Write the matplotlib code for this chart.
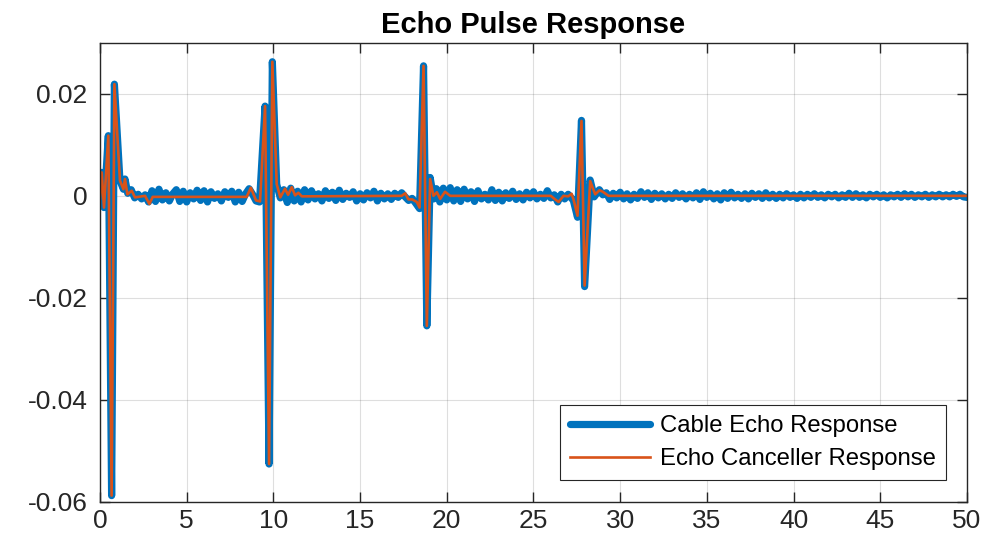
import numpy as np
import matplotlib
matplotlib.use("Agg")
import matplotlib.pyplot as plt

plt.rcParams['font.family'] = ['Liberation Sans', 'DejaVu Sans']

title = "Echo Pulse Response"
series_names = ["Cable Echo Response", "Echo Canceller Response"]
x_ticks = [0, 5, 10, 15, 20, 25, 30, 35, 40, 45, 50]
y_ticks = [-0.06, -0.04, -0.02, 0.0, 0.02]
y_tick_labels = ["-0.06", "-0.04", "-0.02", "0", "0.02"]

# Echo canceller response (vertices)
canceller_t = [0.0, 0.1, 0.23, 0.48, 0.67, 0.83, 1.15, 1.35, 1.44, 1.58, 1.83, 2.02,
               2.6, 2.85, 3.04, 8.46, 8.7, 9.0, 9.23, 9.52, 9.75, 9.94, 10.19, 10.4,
               10.67, 10.85, 11.06, 11.25, 11.44, 11.64, 17.4, 17.6, 17.79, 18.0, 18.27,
               18.43, 18.66, 18.85, 19.04, 19.23, 19.43, 19.62, 19.9, 20.2, 26.0, 26.25,
               26.45, 26.73, 27.0, 27.2, 27.31, 27.54, 27.77, 27.95, 28.27, 28.56, 28.81,
               29.0, 29.33, 50.0]
canceller_y = [-0.0005, 0.0046, -0.0023, 0.0118, -0.0588, 0.0219, 0.0030, 0.0013, 0.0033,
               0.0003, 0.0010, -0.0003, 0.0000, -0.0016, -0.0002, -0.0002, 0.0016, -0.0009,
               -0.0011, 0.0176, -0.0526, 0.0263, 0.0023, -0.0003, 0.0014, 0.0002, 0.0017,
               0.0001, 0.0006, -0.0001, 0.0000, 0.0005, -0.0007, -0.0007, -0.0012, -0.0023,
               0.0255, -0.0255, 0.0033, 0.0000, 0.0007, -0.0006, 0.0008, 0.0000, 0.0000,
               -0.0007, -0.0012, 0.0000, -0.0001, 0.0004, -0.0007, -0.0039, 0.0147, -0.0176,
               0.0029, 0.0003, 0.0011, 0.0008, 0.0000, 0.0000]

# Cable echo response (vertices)
cable_t = [0.0, 0.1, 0.23, 0.48, 0.67, 0.83, 1.15, 1.35, 1.44,
           1.6, 1.8, 2.0, 2.2, 2.4, 2.6, 2.8, 3.0, 3.2, 3.4, 3.6, 3.8, 4.0, 4.2, 4.4, 4.6,
           4.8, 5.0, 5.2, 5.4, 5.6, 5.8, 6.0, 6.2, 6.4, 6.6, 6.8, 7.0, 7.2, 7.4, 7.6, 7.8,
           8.0, 8.2, 8.4, 8.6, 8.8, 9.0, 9.2,
           9.52, 9.75, 9.94, 10.19,
           10.4, 10.6, 10.8, 11.0, 11.2, 11.4, 11.6, 11.8, 12.0, 12.2, 12.4, 12.6, 12.8,
           13.0, 13.2, 13.4, 13.6, 13.8, 14.0, 14.2, 14.4, 14.6, 14.8, 15.0, 15.2, 15.4,
           15.6, 15.8, 16.0, 16.2, 16.4, 16.6, 16.8, 17.0, 17.2, 17.4, 17.6, 17.8, 18.0,
           18.2, 18.43, 18.66, 18.85, 19.04, 19.25,
           19.4, 19.6, 19.8, 20.0, 20.2, 20.4, 20.6, 20.8, 21.0, 21.2, 21.4, 21.6, 21.8,
           22.0, 22.2, 22.4, 22.6, 22.8, 23.0, 23.2, 23.4, 23.6, 23.8, 24.0, 24.2, 24.4,
           24.6, 24.8, 25.0, 25.2, 25.4, 25.6, 25.8, 26.0, 26.2, 26.4, 26.6, 26.8, 27.0,
           27.3, 27.54, 27.77, 27.95, 28.27, 28.5, 28.8,
           29.0, 29.2, 29.4, 29.6, 29.8, 30.0, 30.2, 30.4, 30.6, 30.8, 31.0, 31.2, 31.4,
           31.6, 31.8, 32.0, 32.2, 32.4, 32.6, 32.8, 33.0, 33.2, 33.4, 33.6, 33.8, 34.0,
           34.2, 34.4, 34.6, 34.8, 35.0, 35.2, 35.4, 35.6, 35.8, 36.0, 36.2, 36.4, 36.6,
           36.8, 37.0, 37.2, 37.4, 37.6, 37.8, 38.0, 38.2, 38.4, 38.6, 38.8, 39.0, 39.2,
           39.4, 39.6, 39.8, 40.0, 40.2, 40.4, 40.6, 40.8, 41.0, 41.2, 41.4, 41.6, 41.8,
           42.0, 42.2, 42.4, 42.6, 42.8, 43.0, 43.2, 43.4, 43.6, 43.8, 44.0, 44.2, 44.4,
           44.6, 44.8, 45.0, 45.2, 45.4, 45.6, 45.8, 46.0, 46.2, 46.4, 46.6, 46.8, 47.0,
           47.2, 47.4, 47.6, 47.8, 48.0, 48.2, 48.4, 48.6, 48.8, 49.0, 49.2, 49.4, 49.6,
           49.8, 50.0]
cable_y = [-0.0005, 0.0046, -0.0023, 0.0118, -0.0588, 0.0219, 0.0030, 0.0013, 0.0033,
           0.0005, 0.0012, -0.0004, 0.0003, -0.0006, 0.0002, -0.0012, 0.0010, -0.0011,
           0.0013, -0.0008, 0.0006, -0.0010, 0.0004, 0.0012, -0.0011, 0.0009, -0.0012,
           0.0006, -0.0006, 0.0011, -0.0009, 0.0010, -0.0012, 0.0008, -0.0005, 0.0004,
           -0.0010, 0.0008, -0.0003, 0.0009, -0.0012, 0.0007, -0.0011, 0.0004, 0.0014,
           0.0003, -0.0010, -0.0012,
           0.0176, -0.0526, 0.0263, 0.0023,
           -0.0004, 0.0012, -0.0013, 0.0015, -0.0010, 0.0009, -0.0012, 0.0012, -0.0008,
           0.0010, -0.0006, 0.0004, -0.0010, 0.0010, -0.0005, 0.0007, -0.0009, 0.0011,
           -0.0007, 0.0005, -0.0003, 0.0008, -0.0010, 0.0004, -0.0008, 0.0006, -0.0004,
           0.0009, -0.0010, 0.0005, -0.0006, 0.0004, -0.0007, 0.0005, -0.0003, 0.0006,
           -0.0002, -0.0009, -0.0005, -0.0014, -0.0025, 0.0255, -0.0255, 0.0036, -0.0006,
           0.0014, -0.0012, 0.0015, -0.0008, 0.0016, -0.0010, 0.0012, -0.0011, 0.0013,
           -0.0006, 0.0008, -0.0011, 0.0010, -0.0006, 0.0003, -0.0008, 0.0012, -0.0009,
           0.0007, -0.0010, 0.0006, -0.0005, 0.0009, -0.0007, 0.0004, -0.0008, 0.0007,
           -0.0004, 0.0008, -0.0006, 0.0003, -0.0005, 0.0010, -0.0004, 0.0002, -0.0012,
           0.0003, -0.0006, 0.0003, -0.0009, -0.0042, 0.0148, -0.0178, 0.0031, -0.0002,
           0.0012,
           0.0002, 0.0006, -0.0007, 0.0005, -0.0004, 0.0007, -0.0006, 0.0004, -0.0008,
           0.0003, -0.0005, 0.0008, -0.0003, 0.0006, -0.0007, 0.0005, -0.0004, 0.0004,
           -0.0006, 0.0003, -0.0005, 0.0006, -0.0003, 0.0004, -0.0006, 0.0003, -0.0004,
           0.0006, -0.0007, 0.0008, -0.0003, 0.0005, -0.0006, 0.0004, -0.0008, 0.0006,
           -0.0005, 0.0007, -0.0004, 0.0003, -0.0005, 0.0004, -0.0006, 0.0005, -0.0003,
           0.0004, -0.0005, 0.0006, -0.0004, 0.0003, -0.0005, 0.0003, -0.0004, 0.0004,
           -0.0003, 0.0002, -0.0005, 0.0003, -0.0004, 0.0003, -0.0003, 0.0004, -0.0003,
           0.0002, -0.0004, 0.0003, -0.0002, 0.0003, -0.0004, 0.0002, -0.0003, 0.0005,
           -0.0003, 0.0004, -0.0003, 0.0002, -0.0004, 0.0003, -0.0002, 0.0003, -0.0003,
           0.0002, -0.0004, 0.0002, -0.0002, 0.0003, -0.0003, 0.0004, -0.0002, 0.0003,
           -0.0003, 0.0002, -0.0002, 0.0003, -0.0003, 0.0002, -0.0002, 0.0003, -0.0002,
           0.0002, -0.0002, 0.0003, -0.0001, 0.0003, -0.0002, -0.0003]

blue = "#0072BD"
orange = "#D95319"
dark = "#262626"

fig = plt.figure(figsize=(10.02, 5.43), dpi=100)
ax = fig.add_axes([0.0998, 0.076, 0.8652, 0.845])

ax.plot(cable_t, cable_y, color=blue, lw=5.2, solid_joinstyle='round',
        solid_capstyle='round', label=series_names[0])
ax.plot(canceller_t, canceller_y, color=orange, lw=1.9, solid_joinstyle='round',
        label=series_names[1])

ax.set_xlim(0, 50)
ax.set_ylim(-0.06, 0.03)
ax.set_xticks(x_ticks)
ax.set_xticklabels([str(v) for v in x_ticks])
ax.set_yticks(y_ticks)
ax.set_yticklabels(y_tick_labels)

ax.grid(True, color="#262626", alpha=0.15, lw=0.8)
ax.set_axisbelow(True)
for s in ax.spines.values():
    s.set_color(dark)
    s.set_linewidth(1.0)
ax.tick_params(direction='in', length=7, width=1.0, colors=dark,
               top=True, right=True, labelsize=19)
ax.tick_params(axis='y', pad=9)
ax.tick_params(axis='x', pad=5)

ax.set_title(title, fontsize=21, fontweight='bold', color='black', pad=7)

leg = ax.legend(loc='lower right', bbox_to_anchor=(0.976, 0.047), fontsize=17.2,
                frameon=True, fancybox=False, edgecolor=dark, framealpha=1,
                borderaxespad=0, handlelength=3.35, handletextpad=0.42,
                borderpad=0.42, labelspacing=0.45)
leg.get_frame().set_linewidth(0.8)

fig.savefig("out.png", dpi=100)
